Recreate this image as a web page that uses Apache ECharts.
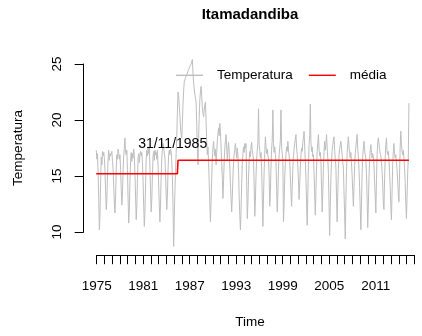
<!DOCTYPE html>
<html>
<head>
<meta charset="utf-8">
<script src="https://cdn.jsdelivr.net/npm/echarts@6/dist/echarts.min.js"></script>
<style>
html,body{margin:0;padding:0;background:#fff;}
#c{width:422px;height:336px;}
</style>
</head>
<body>
<div id="c"></div>
<script>
// ---- data (monthly, starting Jan 1975) ----
const startYear = 1975;
const temp1975to1979 = [
  17.3, 16.5, 17.0, 15.2, 12.8, 10.2, 11.6, 14.4, 16.7, 16.0, 17.2, 16.8,
  17.1, 16.6, 15.4, 13.6, 12.0, 12.9, 15.0, 16.6, 17.3, 16.4, 17.0, 16.8,
  16.9, 17.2, 16.3, 15.6, 14.0, 12.6, 11.7, 13.2, 15.6, 16.9, 16.5, 17.4,
  17.0, 16.5, 16.9, 15.5, 13.8, 12.4, 13.4, 15.6, 16.8, 17.6, 18.4, 17.1,
  16.9, 17.3, 15.6, 13.0, 10.8, 11.9, 14.6, 16.4, 17.1, 16.3, 17.0, 16.6
];
const temp1980to1989 = [
  17.4, 16.8, 15.2, 13.1, 11.1, 12.3, 14.8, 16.6, 17.0, 16.2, 16.9, 17.2,
  16.8, 17.1, 16.2, 14.6, 12.4, 10.5, 11.8, 14.3, 16.5, 17.3, 16.8, 17.5,
  17.0, 17.6, 15.8, 13.7, 11.8, 12.9, 15.1, 16.8, 17.2, 16.4, 17.3, 16.9,
  17.1, 16.5, 17.3, 16.0, 14.2, 12.4, 10.9, 12.6, 15.0, 16.6, 17.4, 17.9,
  17.6, 17.0, 16.7, 15.1, 13.4, 12.0, 13.2, 15.5, 16.9, 17.3, 16.9, 17.4,
  17.2, 16.3, 14.8, 12.2, 8.7, 11.2, 13.6, 15.4, 17.0, 18.6, 20.6, 22.5,
  22.2, 21.3, 20.4, 19.4, 18.7, 18.4, 19.8, 21.4, 22.6, 23.4, 23.6, 23.8,
  23.9, 24.0, 24.2, 24.3, 24.5, 24.6, 24.8, 24.9, 25.0, 25.2, 25.4, 24.2,
  23.3, 22.8, 22.3, 21.9, 21.6, 19.5, 17.4, 16.0, 18.4, 20.3, 21.8, 22.6,
  23.0, 22.1, 21.2, 20.6, 20.3, 20.9, 21.4, 21.6, 19.8, 18.0, 16.9, 17.6
];
const temp1990to1999 = [
  16.2, 14.4, 12.6, 10.9, 12.8, 14.9, 16.6, 17.5, 18.1, 17.3, 16.8, 17.4,
  16.0, 17.1, 18.2, 18.8, 19.3, 18.6, 19.7, 18.9, 17.6, 16.2, 14.8, 13.0,
  14.6, 16.3, 17.5, 18.2, 18.7, 17.6, 16.4, 17.3, 18.0, 17.2, 15.8, 14.3,
  13.0, 11.8, 13.1, 14.9, 16.2, 17.0, 17.4, 17.9, 17.2, 16.6, 17.5, 16.8,
  15.4, 13.2, 11.5, 10.2, 11.9, 14.3, 16.1, 17.0, 17.6, 17.1, 17.9, 17.5,
  17.9, 14.5, 11.2, 12.6, 14.8, 16.5, 17.2, 16.7, 17.6, 18.0, 17.3, 16.9,
  16.4, 14.2, 11.4, 12.8, 15.0, 16.6, 17.3, 18.0, 21.0, 17.8, 17.2, 16.6,
  17.1, 15.6, 13.2, 10.5, 13.0, 15.4, 17.0, 18.5, 17.6, 17.0, 17.4, 16.8,
  16.6, 15.0, 12.3, 13.6, 15.8, 17.4, 18.2, 20.9, 17.9, 17.1, 17.6, 16.9,
  16.2, 14.0, 11.8, 13.4, 15.6, 16.9, 17.5, 18.2, 20.9, 17.6, 17.0, 16.4
];
const temp2000to2009 = [
  10.9, 12.5, 14.8, 16.2, 17.0, 17.6, 17.2, 18.1, 17.4, 16.8, 16.3, 15.0,
  13.6, 12.3, 13.9, 15.6, 16.8, 17.4, 17.9, 18.3, 18.7, 17.5, 16.9, 15.8,
  14.6, 12.9, 14.2, 15.8, 16.9, 17.5, 17.2, 18.0, 18.4, 19.0, 17.6, 16.3,
  14.8, 12.5, 10.6, 13.3, 16.0, 17.8, 18.6, 21.4, 18.0, 17.2, 17.6, 16.7,
  16.9, 15.3, 13.4, 11.5, 13.6, 15.8, 17.2, 18.0, 18.7, 17.4, 16.8, 17.1,
  16.4, 14.0, 11.8, 13.5, 15.7, 17.2, 18.1, 17.3, 17.8, 18.7, 17.5, 16.6,
  15.2, 12.4, 9.7, 12.3, 14.8, 16.4, 17.3, 17.8, 18.2, 18.5, 17.3, 16.5,
  15.8, 13.1, 10.9, 13.4, 15.6, 16.9, 17.4, 17.8, 18.1, 17.5, 16.9, 16.2,
  15.7, 13.6, 11.6, 9.4, 12.8, 15.4, 17.0, 17.9, 18.5, 17.6, 17.0, 16.6,
  17.1, 16.2, 15.0, 13.6, 12.3, 14.0, 15.8, 17.0, 17.6, 18.2, 18.7, 17.4
];
const temp2010to2016 = [
  16.8, 15.6, 14.0, 12.1, 10.2, 12.6, 15.2, 16.8, 17.5, 18.1, 17.3, 16.9,
  16.5, 15.2, 13.0, 10.4, 12.4, 14.9, 16.5, 17.3, 17.8, 17.1, 16.6, 17.0,
  16.7, 16.0, 14.5, 13.2, 11.7, 14.6, 16.9, 18.0, 18.4, 18.5, 17.4, 17.0,
  16.8, 16.2, 15.4, 14.2, 12.6, 12.0, 14.8, 16.6, 17.8, 18.4, 17.2, 16.9,
  17.2, 16.5, 15.3, 14.0, 12.4, 11.1, 13.6, 16.0, 17.2, 17.9, 17.0, 16.6,
  16.9, 16.2, 15.6, 14.5, 13.4, 12.7, 15.2, 17.6, 19.0, 17.8, 17.2, 16.9,
  17.3, 16.6, 15.8, 14.4, 12.6, 11.2, 13.0, 15.2, 16.6, 21.5
];
// mean before / after the break (31/11/1985)
const meanX = [1975, 1985 + 10/12, 1985 + 11/12, 2016 + 9/12];
const meanY = [15.2, 15.2, 16.4, 16.4];
// annotation
const annotationText = '31/11/1985';
const annotationX = 1985.2;
const annotationY = 17.86;
// ticks
const yTicks = [10, 15, 20, 25];
const xLabelYears = [1975, 1981, 1987, 1993, 1999, 2005, 2011];
const xTickFirst = 1975, xTickLast = 2016;

// ---- build ----
const temps = [].concat(temp1975to1979, temp1980to1989, temp1990to1999, temp2000to2009, temp2010to2016);
const tempData = temps.map((v, i) => [startYear + i / 12, v]);
const meanData = meanX.map((x, i) => [x, meanY[i]]);

// plot region (R-style, 4% padding)
const G = {left: 83.7, top: 52, width: 350.1, height: 203.2};
const xMin = 1973.3226, xMax = 2018.497;
const yMin = 7.93, yMax = 26.07;
const px = x => G.left + (x - xMin) / (xMax - xMin) * G.width;
const py = y => G.top + (yMax - y) / (yMax - yMin) * G.height;

const FONT = 'Liberation Sans, Arial, Helvetica, sans-serif';
const chart = echarts.init(document.getElementById('c'), null, {renderer: 'canvas'});
chart.setOption({
  animation: false,
  backgroundColor: '#ffffff',
  textStyle: {fontFamily: FONT},
  title: [
    {text: 'Itamadandiba', left: 250, top: 14.5, textAlign: 'center', textVerticalAlign: 'middle', padding: 0,
     textStyle: {fontFamily: FONT, fontWeight: 'bold', fontSize: 15, color: '#000'}},
    {text: 'Time', left: 250, top: 322, textAlign: 'center', textVerticalAlign: 'middle', padding: 0,
     textStyle: {fontFamily: FONT, fontWeight: 'normal', fontSize: 13.5, color: '#000'}}
  ],
  legend: {
    data: [
      {name: 'Temperatura', icon: 'rect', itemStyle: {color: '#bebebe'}},
      {name: 'média', icon: 'rect', itemStyle: {color: '#ff0000'}}
    ],
    left: 176, top: 68.3, padding: 0,
    itemWidth: 27, itemHeight: 1.4, itemGap: 16,
    textStyle: {fontFamily: FONT, fontSize: 13.5, color: '#000', padding: [0, 0, 0, 9]}
  },
  grid: [
    {left: G.left, top: G.top, width: G.width, height: G.height},
    {left: G.left, top: py(yTicks[yTicks.length - 1]), width: G.width, height: py(yTicks[0]) - py(yTicks[yTicks.length - 1])},
    {left: px(xTickFirst), top: G.top, width: px(xTickLast) - px(xTickFirst), height: G.height}
  ],
  xAxis: [
    {type: 'value', gridIndex: 0, min: xMin, max: xMax, show: false},
    {type: 'value', gridIndex: 1, min: xMin, max: xMax, show: false},
    {type: 'value', gridIndex: 2, min: xTickFirst, max: xTickLast, interval: 1, position: 'bottom',
     axisLine: {show: true, lineStyle: {color: '#000', width: 1}},
     axisTick: {show: true, length: 9, inside: false, lineStyle: {color: '#000', width: 1}},
     splitLine: {show: false},
     axisLabel: {show: true, margin: 24, fontSize: 13.5, color: '#000', fontFamily: FONT,
       showMinLabel: true, showMaxLabel: true,
       formatter: v => xLabelYears.indexOf(Math.round(v)) >= 0 ? String(Math.round(v)) : ''}}
  ],
  yAxis: [
    {type: 'value', gridIndex: 0, min: yMin, max: yMax, show: false},
    {type: 'value', gridIndex: 1, min: yTicks[0], max: yTicks[yTicks.length - 1], interval: 5, position: 'left',
     axisLine: {show: true, lineStyle: {color: '#000', width: 1}},
     axisTick: {show: true, length: 9, inside: false, lineStyle: {color: '#000', width: 1}},
     splitLine: {show: false},
     axisLabel: {show: true, rotate: 90, margin: 19, fontSize: 13.5, color: '#000', fontFamily: FONT,
       showMinLabel: true, showMaxLabel: true},
     name: 'Temperatura', nameLocation: 'middle', nameRotate: 90, nameGap: 58,
     nameTextStyle: {fontFamily: FONT, fontSize: 13.5, color: '#000'}},
    {type: 'value', gridIndex: 2, min: yMin, max: yMax, show: false}
  ],
  series: [
    {name: 'Temperatura', type: 'line', xAxisIndex: 0, yAxisIndex: 0, data: tempData,
     symbol: 'none', showSymbol: false, lineStyle: {color: '#bebebe', width: 1}, itemStyle: {color: '#bebebe'}, z: 2},
    {name: 'média', type: 'line', xAxisIndex: 0, yAxisIndex: 0, data: meanData,
     symbol: 'none', showSymbol: false, lineStyle: {color: '#ff0000', width: 1.6}, itemStyle: {color: '#ff0000'}, z: 3},
    {name: 'annotation', type: 'scatter', xAxisIndex: 0, yAxisIndex: 0, data: [[annotationX, annotationY]],
     symbolSize: 1, itemStyle: {color: 'rgba(0,0,0,0)'}, silent: true, z: 4,
     label: {show: true, position: 'inside', formatter: annotationText, fontFamily: FONT, fontSize: 14,
       color: '#000', textBorderWidth: 0, opacity: 1}}
  ]
});
</script>
</body>
</html>
